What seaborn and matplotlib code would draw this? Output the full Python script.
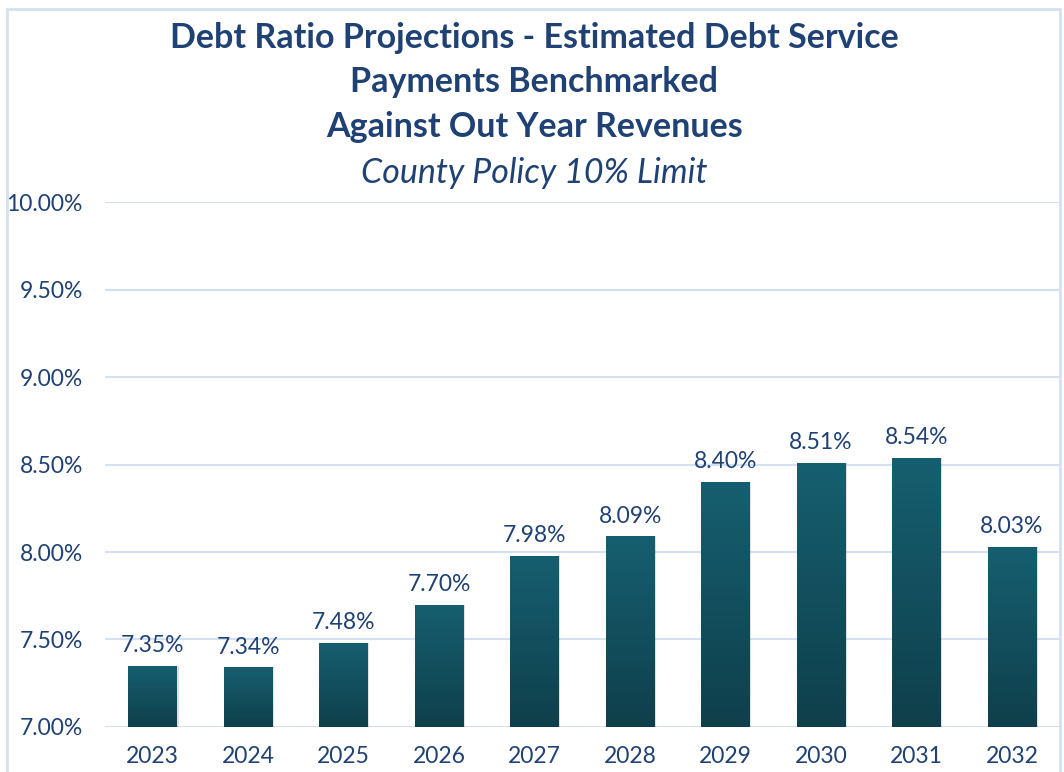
import matplotlib
matplotlib.use("Agg")
import matplotlib.pyplot as plt
import seaborn as sns
import numpy as np
import pandas as pd
from matplotlib.colors import LinearSegmentedColormap
from matplotlib.patches import Rectangle

years = ["2023", "2024", "2025", "2026", "2027", "2028", "2029", "2030", "2031", "2032"]
ratios = [7.35, 7.34, 7.48, 7.70, 7.98, 8.09, 8.40, 8.51, 8.54, 8.03]
y_ticks = [7.0, 7.5, 8.0, 8.5, 9.0, 9.5, 10.0]

df = pd.DataFrame({"year": years, "ratio": ratios})

sns.set_theme(style="white")
plt.rcParams["font.family"] = ["Lato", "DejaVu Sans"]

text_color = "#1f4173"
grid_color = "#d5e1f0"

fig = plt.figure(figsize=(10.64, 7.72), dpi=100)
ax = fig.add_axes([0.0987, 0.0583, 0.8973, 0.68])

sns.barplot(data=df, x="year", y="ratio", color="#155d6e", width=0.51, ax=ax,
            zorder=3)

# gradient fill on bars
cmap = LinearSegmentedColormap.from_list("bar", ["#0f3f4b", "#165f70"])
grad = np.linspace(0, 1, 256).reshape(-1, 1)
for p in ax.patches:
    x0, w, h = p.get_x(), p.get_width(), p.get_height()
    y0 = p.get_y()
    # soft shadow
    sh = Rectangle((x0 + 0.015, 7.0), w, h - (7.0 - y0), facecolor="#000000",
                   alpha=0.12, zorder=2, lw=0)
    ax.add_patch(sh)
    im = ax.imshow(grad, extent=[x0, x0 + w, 7.0, y0 + h], origin="lower",
                   cmap=cmap, aspect="auto", zorder=4)
    im.set_clip_path(p)
    p.set_alpha(0)

for i, v in enumerate(ratios):
    ax.text(i, v + 0.055, f"{v:.2f}%", ha="center", va="bottom",
            fontsize=16.5, color=text_color, zorder=5)

ax.set_ylim(7.0, 10.0)
ax.set_xlim(-0.5, 9.5)
ax.set_yticks(y_ticks)
ax.set_yticklabels([f"{t:.2f}%" for t in y_ticks])
ax.yaxis.grid(True, color=grid_color, linewidth=1.5, zorder=0)
ax.set_axisbelow(True)
for s in ax.spines.values():
    s.set_visible(False)
ax.tick_params(axis="y", labelsize=16.5, labelcolor=text_color, pad=16, length=0)
ax.tick_params(axis="x", labelsize=16.5, labelcolor=text_color, pad=14, length=0)
ax.set_xlabel("")
ax.set_ylabel("")

title_kw = dict(ha="center", va="center", fontsize=24.5, color=text_color)
fig.text(0.502, 0.951, "Debt Ratio Projections - Estimated Debt Service",
         fontweight="bold", **title_kw)
fig.text(0.502, 0.894, "Payments Benchmarked", fontweight="bold", **title_kw)
fig.text(0.502, 0.835, "Against Out Year Revenues", fontweight="bold", **title_kw)
fig.text(0.502, 0.776, "County Policy 10% Limit", fontstyle="italic", **title_kw)

# outer chart border
fig.add_artist(Rectangle((0.0066, -0.01), 0.9897, 0.998, transform=fig.transFigure,
                         fill=False, edgecolor=grid_color, linewidth=2))

fig.savefig("out.png", dpi=100)
